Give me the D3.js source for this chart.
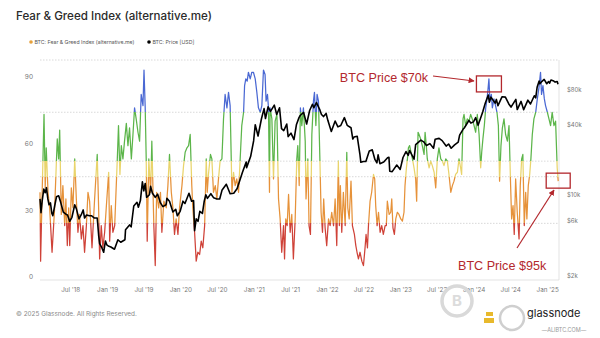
<!DOCTYPE html>
<html>
<head>
<meta charset="utf-8">
<script src="https://cdn.jsdelivr.net/npm/d3@7"></script>
<style>
  html, body { margin: 0; padding: 0; background: #fff; }
  svg { display: block; font-family: Inter, "Open Sans", "Noto Sans", sans-serif; }
</style>
</head>
<body>
<svg id="chart" width="600" height="338"></svg>
<script>
// fear & greed readings: [days since 2018-02-01, index]
const fngStart = "2018-02-01";
const fearGreed = [
  [0,38],[3,7],[10,35],[20,73],[26,40],[31,58],[40,38],[48,31],[60,11],[73,31],[86,62],[93,53],[98,66],
  [106,28],[114,41],[123,23],[129,35],[136,14],[143,31],[148,14],[156,40],[164,31],[173,53],[181,35],
  [189,20],[197,28],[206,17],[214,23],[222,11],[231,23],[239,38],[247,34],[259,13],[272,35],[285,55],
  [292,31],[297,8],[305,23],[313,13],[322,20],[330,31],[342,47],[347,16],[355,32],[363,20],[372,23],
  [385,53],[391,68],[398,46],[405,59],[413,53],[421,61],[430,69],[438,59],[446,67],[455,53],[463,64],
  [471,76],[479,71],[488,65],[496,61],[504,82],[513,77],[518,93],[524,76],[529,53],[534,16],[542,53],
  [551,38],[557,61],[567,23],[574,5],[581,38],[591,31],[600,38],[607,20],[617,34],[629,31],[637,41],
  [645,55],[654,38],[662,31],[670,19],[678,26],[687,19],[695,31],[707,41],[715,50],[723,56],[732,58],
  [740,59],[748,64],[756,41],[761,31],[770,20],[778,7],[786,11],[795,10],[803,16],[811,13],[820,23],
  [828,53],[833,38],[839,46],[849,55],
  [856,53],[864,38],[873,41],[881,35],[889,44],[897,52],[906,53],[914,71],[922,82],[931,76],[939,83],
  [947,77],[956,38],[964,47],[972,41],[980,44],[989,38],[997,53],[1005,68],[1014,74],[1019,86],[1025,89],
  [1032,88],[1038,92],[1047,89],[1055,92],[1063,92],[1072,89],[1080,83],[1088,76],[1097,74],[1105,77],
  [1113,93],[1121,91],[1126,79],[1133,82],[1138,76],[1143,38],[1146,76],[1155,71],[1163,44],[1171,70],
  [1180,73],[1188,35],[1196,26],[1204,11],[1213,23],[1218,8],[1224,26],[1231,23],[1238,37],[1246,20],
  [1254,28],[1262,8],[1271,26],[1279,53],[1284,59],[1291,41],[1297,76],[1304,68],[1312,76],[1321,61],
  [1325,35],[1334,53],[1340,23],[1347,19],[1354,64],[1362,79],[1367,83],[1374,68],[1380,82],[1387,79],
  [1394,53],[1400,29],[1407,20],[1413,35],[1420,22],[1428,14],[1437,26],[1445,23],[1453,29],[1462,23],
  [1470,35],[1478,14],[1486,52],[1491,23],[1496,41],[1503,20],[1511,38],[1520,23],[1528,56],[1533,31],
  [1540,26],[1549,43],[1556,23],[1566,19],[1573,14],[1579,11],[1586,8],[1594,11],[1603,7],[1611,5],
  [1619,13],[1624,19],[1631,13],[1636,23],[1644,34],[1652,38],[1661,46],[1667,44],[1672,32],[1679,23],
  [1686,29],[1694,20],[1702,23],[1710,19],[1719,23],
  [1725,23],[1730,34],[1739,28],[1747,29],[1752,35],[1758,22],[1765,19],[1772,26],[1780,29],[1788,28],
  [1797,26],[1805,25],[1813,29],[1818,41],[1825,49],[1830,53],[1835,58],[1841,59],[1848,56],[1855,53],
  [1863,49],[1871,44],[1876,34],[1883,65],[1888,64],[1896,62],[1904,59],[1913,55],[1918,65],[1924,59],
  [1929,53],[1938,49],[1946,52],[1954,50],[1963,47],[1971,40],[1979,53],[1987,58],[1996,53],[2004,52],
  [2012,50],[2021,53],[2029,52],[2037,46],[2046,38],[2054,41],[2062,43],[2070,46],[2079,47],[2087,53],
  [2095,49],[2100,46],[2107,71],[2112,73],[2120,68],[2128,71],[2137,70],[2145,73],[2153,71],[2162,68],
  [2170,65],[2178,73],[2187,64],[2195,49],[2200,56],[2206,62],[2213,68],[2220,76],[2225,79],[2230,83],
  [2236,89],[2241,79],[2248,82],[2253,76],[2261,80],[2269,77],[2276,74],[2283,68],[2289,43],[2296,59],
  [2303,67],[2311,71],[2319,64],[2328,61],[2336,68],[2344,41],[2349,26],[2356,32],[2362,19],[2369,44],
  [2377,29],[2386,17],[2392,41],[2399,53],[2405,55],[2412,23],[2419,38],[2425,26],[2432,41],[2439,46],
  [2445,53],[2452,64],[2460,71],[2469,74],[2477,80],[2485,85],[2493,92],[2498,82],[2505,86],[2512,80],
  [2518,77],[2527,74],[2535,71],[2543,68],[2551,74],[2560,68],[2568,70],[2576,49],[2581,43]
];

// BTC price in USD
const btcPrice = [
  ["2018-02-01",9200],["2018-02-06",7000],["2018-02-12",8900],["2018-02-20",11200],["2018-02-27",10400],
  ["2018-03-05",11500],["2018-03-12",9200],["2018-03-18",8200],["2018-03-25",8500],["2018-04-01",6900],
  ["2018-04-06",6600],["2018-04-15",8000],["2018-04-24",9600],["2018-05-05",9800],["2018-05-15",8600],
  ["2018-05-28",7100],["2018-06-10",6800],["2018-06-18",6700],["2018-06-29",5900],["2018-07-10",6400],
  ["2018-07-24",8200],["2018-08-01",7600],["2018-08-14",6200],["2018-08-25",6700],["2018-09-04",7400],
  ["2018-09-11",6300],["2018-09-21",6700],["2018-10-05",6600],["2018-10-15",6600],["2018-10-30",6300],
  ["2018-11-13",6300],["2018-11-20",4500],["2018-11-25",3800],["2018-12-06",3500],["2018-12-15",3200],
  ["2018-12-24",4000],["2018-12-31",3700],
  ["2019-01-10",3600],["2019-01-20",3550],["2019-02-07",3400],["2019-02-24",4100],["2019-03-10",3900],
  ["2019-03-31",4100],["2019-04-03",5000],["2019-04-23",5500],["2019-05-01",5300],["2019-05-14",8000],
  ["2019-05-30",8600],["2019-06-06",7800],["2019-06-16",8900],["2019-06-26",12900],["2019-07-03",10800],
  ["2019-07-10",12500],["2019-07-17",9500],["2019-07-31",10000],["2019-08-06",11800],["2019-08-15",10300],
  ["2019-08-29",9500],["2019-09-10",10100],["2019-09-24",8500],["2019-10-06",7900],["2019-10-22",8200],
  ["2019-10-26",9300],["2019-11-08",8800],["2019-11-25",7100],["2019-12-09",7500],["2019-12-17",6600],
  ["2019-12-31",7200],
  ["2020-01-14",8800],["2020-01-24",8400],["2020-02-13",10300],["2020-02-26",8800],["2020-03-07",8900],
  ["2020-03-12",4900],["2020-03-20",6200],["2020-03-29",5900],["2020-04-07",7200],["2020-04-20",6900],
  ["2020-04-29",8800],["2020-05-07",10000],["2020-05-15",9300],["2020-06-01",10200],["2020-06-15",9400],
  ["2020-07-01",9200],["2020-07-15",9200],["2020-07-27",11000],["2020-08-17",12300],["2020-09-05",10200],
  ["2020-09-23",10300],["2020-10-10",11300],["2020-10-21",12900],["2020-11-05",15500],["2020-11-24",19100],
  ["2020-11-26",17100],["2020-12-16",21300],["2020-12-31",29000],
  ["2021-01-08",40000],["2021-01-22",32000],["2021-02-08",45000],["2021-02-21",55000],["2021-02-28",45200],
  ["2021-03-13",57000],["2021-03-25",52000],["2021-04-13",59000],["2021-04-25",49000],["2021-05-09",56000],
  ["2021-05-19",37000],["2021-05-30",35600],["2021-06-14",40500],["2021-06-21",31600],["2021-07-05",33800],
  ["2021-07-20",29800],["2021-08-01",39900],["2021-08-14",46000],["2021-08-20",48000],["2021-09-06",51000],
  ["2021-09-21",40600],["2021-10-06",53000],["2021-10-20",60000],["2021-10-27",56000],["2021-11-09",62000],
  ["2021-11-26",53600],["2021-12-04",49000],["2021-12-14",47000],["2021-12-27",50000],
  ["2022-01-05",43400],["2022-01-22",35000],["2022-02-10",43000],["2022-02-24",38300],["2022-03-10",39400],
  ["2022-03-28",46000],["2022-04-11",39500],["2022-04-30",37700],["2022-05-09",30100],["2022-05-15",31300],
  ["2022-05-31",31800],["2022-06-13",22500],["2022-06-18",19000],["2022-07-01",19300],["2022-07-13",19300],
  ["2022-07-30",23800],["2022-08-14",24300],["2022-08-27",20100],["2022-09-06",18800],["2022-09-12",22000],
  ["2022-09-21",18500],["2022-10-10",19100],["2022-10-29",20800],["2022-11-05",21000],["2022-11-09",15900],
  ["2022-11-21",15800],["2022-12-14",18000],["2022-12-31",16500],
  ["2023-01-14",20900],["2023-01-29",23500],["2023-02-09",21800],["2023-02-16",24000],["2023-03-10",20200],
  ["2023-03-18",27000],["2023-04-13",29500],["2023-04-27",28500],["2023-05-11",26500],["2023-05-28",27500],
  ["2023-06-15",25100],["2023-06-23",30000],["2023-07-13",30500],["2023-07-28",29200],["2023-08-17",26200],
  ["2023-08-29",27300],["2023-09-11",25100],["2023-09-28",26800],["2023-10-16",28300],["2023-10-23",32500],
  ["2023-11-09",36500],["2023-11-15",37500],["2023-12-08",43500],["2023-12-18",41300],["2023-12-31",42300],
  ["2024-01-11",46000],["2024-01-23",39500],["2024-02-15",51500],["2024-02-28",61500],["2024-03-14",72000],
  ["2024-03-19",62500],["2024-03-27",69000],["2024-04-17",61300],["2024-04-23",66000],["2024-05-01",58300],
  ["2024-05-21",69500],["2024-06-07",69000],["2024-06-24",60300],["2024-07-05",56700],["2024-07-29",66000],
  ["2024-08-05",54000],["2024-08-24",63500],["2024-09-06",53900],["2024-09-27",65000],["2024-10-10",60300],
  ["2024-10-29",71000],["2024-11-05",68000],["2024-11-12",84000],["2024-11-22",95000],["2024-11-26",90000],
  ["2024-12-05",94000],["2024-12-17",98000],["2024-12-30",90000],
  ["2025-01-08",94000],["2025-01-13",91000],["2025-01-20",97000],["2025-02-03",95000],["2025-02-10",93000],
  ["2025-02-20",94000],["2025-02-24",89000]
];

const xTicks = ["2018-07-01","2019-01-01","2019-07-01","2020-01-01","2020-07-01","2021-01-01","2021-07-01",
  "2022-01-01","2022-07-01","2023-01-01","2023-07-01","2024-01-01","2024-07-01","2025-01-01"];
const fngTicks = [0, 30, 60, 90];
const priceTicks = [2000, 6000, 10000, 40000, 80000];

// sentiment bands, bottom to top
const bandEdges = [0, 24, 45, 52, 74, 100];
const bandColors = ["#cf4238", "#e6923a", "#e9d46c", "#5cb54a", "#4a68d3"];

const parse = d3.utcParse("%Y-%m-%d");
const day0 = parse(fngStart);
const fng = fearGreed.map(d => ({ date: d3.utcDay.offset(day0, d[0]), v: d[1] }));
const price = btcPrice.map(d => ({ date: parse(d[0]), v: d[1] }));

const svg = d3.select("#chart");
const plotL = 40, plotR = 559, plotT = 60, plotB = 280;

const x = d3.scaleUtc().domain([day0, parse("2025-02-24")]).range([plotL, plotR - 1]);
const yL = d3.scaleLinear().domain([0, 90]).range([276.7, 76.7]);
const yR = d3.scaleLog().domain([2000, 80000]).range([276, 89.7]);

// title + legend
svg.append("text").attr("x", 16).attr("y", 20)
  .attr("font-size", 11.6).attr("fill", "#2b2b2b").attr("font-weight", 500)
  .text("Fear & Greed Index (alternative.me)");

const legend = svg.append("g").attr("font-size", 5.2).attr("fill", "#555");
legend.append("circle").attr("cx", 31).attr("cy", 42).attr("r", 1.8).attr("fill", "#e6a03a");
legend.append("text").attr("x", 34.5).attr("y", 44).text("BTC: Fear & Greed Index (alternative.me)");
legend.append("circle").attr("cx", 149).attr("cy", 42).attr("r", 1.8).attr("fill", "#000");
legend.append("text").attr("x", 152.5).attr("y", 44).text("BTC: Price [USD]");

// frame and band lines
svg.append("line").attr("x1", plotL).attr("x2", plotR).attr("y1", plotT).attr("y2", plotT)
  .attr("stroke", "#c8c8c8").attr("stroke-width", 0.7).attr("stroke-dasharray", "1.5,1.5");
svg.append("g").selectAll("line").data(bandEdges.slice(1, -1)).join("line")
  .attr("x1", plotL).attr("x2", plotR)
  .attr("y1", d => yL(d)).attr("y2", d => yL(d))
  .attr("stroke", "#c8c8c8").attr("stroke-width", 0.7).attr("stroke-dasharray", "1.5,1.5");
svg.append("line").attr("x1", plotL).attr("x2", plotR).attr("y1", plotB).attr("y2", plotB)
  .attr("stroke", "#dcdcdc").attr("stroke-width", 0.8);
svg.append("line").attr("x1", plotR).attr("x2", plotR).attr("y1", plotT).attr("y2", plotB)
  .attr("stroke", "#dcdcdc").attr("stroke-width", 0.8);

// axes
const styleAxis = g => {
  g.select(".domain").remove();
  g.selectAll("text").attr("fill", "#777").attr("font-family", "Inter, 'Open Sans', sans-serif");
};
svg.append("g").attr("transform", `translate(${plotL},0)`)
  .call(d3.axisLeft(yL).tickValues(fngTicks).tickSize(0).tickPadding(7))
  .attr("font-size", 6.5).call(styleAxis);
svg.append("g").attr("transform", `translate(${plotR},0)`)
  .call(d3.axisRight(yR).tickValues(priceTicks).tickSize(0).tickPadding(8)
    .tickFormat(d => "$" + d / 1000 + "k"))
  .attr("font-size", 6).call(styleAxis);
svg.append("g").attr("transform", `translate(0,${plotB})`)
  .call(d3.axisBottom(x).tickValues(xTicks.map(parse)).tickSize(0).tickPadding(8)
    .tickFormat(d3.utcFormat("%b '%y")))
  .attr("font-size", 6.3).call(styleAxis);

// banded stroke for the index line
const defs = svg.append("defs");
const grad = defs.append("linearGradient").attr("id", "fngBands")
  .attr("gradientUnits", "userSpaceOnUse")
  .attr("x1", 0).attr("x2", 0).attr("y1", yL(0)).attr("y2", yL(100));
bandColors.forEach((c, i) => {
  grad.append("stop").attr("offset", bandEdges[i] / 100).attr("stop-color", c);
  grad.append("stop").attr("offset", bandEdges[i + 1] / 100).attr("stop-color", c);
});

svg.append("path").datum(fng)
  .attr("fill", "none").attr("stroke", "url(#fngBands)").attr("stroke-width", 1.25)
  .attr("stroke-linejoin", "round")
  .attr("d", d3.line().x(d => x(d.date)).y(d => yL(d.v)));

svg.append("path").datum(price)
  .attr("fill", "none").attr("stroke", "#000").attr("stroke-width", 1.6)
  .attr("stroke-linejoin", "round")
  .attr("d", d3.line().x(d => x(d.date)).y(d => yR(d.v)));

// callouts
const red = "#b3282d";
defs.append("marker").attr("id", "arrow").attr("viewBox", "0 0 10 10")
  .attr("refX", 9).attr("refY", 5).attr("markerWidth", 5).attr("markerHeight", 5)
  .attr("orient", "auto-start-reverse")
  .append("path").attr("d", "M0,0L10,5L0,10z").attr("fill", red);

const spring24 = fng.filter(e => e.date > parse("2024-02-01") && e.date < parse("2024-06-01"));
const peak = spring24.find(d => d.v === d3.max(spring24, e => e.v));
const last = fng[fng.length - 1];
const callouts = [
  { pt: peak, w: 25, h: 16, dy: -3, label: "BTC Price $70k", tx: 428, ty: 82, anchor: "end", ax: 433, ay: 76, bx: 474, by: 81 },
  { pt: last, w: 24, h: 15, dy: -8, label: "BTC Price $95k", tx: 458, ty: 270, anchor: "start", ax: 517, ay: 248, bx: 554, by: 190 }
];
const co = svg.append("g");
callouts.forEach(c => {
  const cx = x(c.pt.date), cy = yL(c.pt.v);
  co.append("rect").attr("x", cx - c.w / 2).attr("y", cy + c.dy).attr("width", c.w).attr("height", c.h)
    .attr("fill", "none").attr("stroke", red).attr("stroke-width", 1.3);
  co.append("line").attr("x1", c.ax).attr("y1", c.ay).attr("x2", c.bx).attr("y2", c.by)
    .attr("stroke", red).attr("stroke-width", 1.2).attr("marker-end", "url(#arrow)");
  co.append("text").attr("x", c.tx).attr("y", c.ty).attr("text-anchor", c.anchor)
    .attr("font-family", "'Liberation Sans', Arial, sans-serif").attr("font-size", 12.6)
    .attr("fill", red).text(c.label);
});

// footer and marks
svg.append("text").attr("x", 16).attr("y", 316).attr("font-size", 6.4).attr("fill", "#8a8a8a")
  .text("© 2025 Glassnode. All Rights Reserved.");

const wm = svg.append("g");
wm.append("circle").attr("cx", 457).attr("cy", 301).attr("r", 15)
  .attr("fill", "none").attr("stroke", "#d9d9d9").attr("stroke-width", 3.5);
wm.append("text").attr("x", 457).attr("y", 306).attr("text-anchor", "middle")
  .attr("font-size", 15).attr("font-weight", 700).attr("fill", "#dcdcdc").text("B");
wm.append("circle").attr("cx", 512).attr("cy", 318).attr("r", 12)
  .attr("fill", "none").attr("stroke", "#cfcfcf").attr("stroke-width", 2.5);
wm.append("rect").attr("x", 486).attr("y", 312).attr("width", 7).attr("height", 4).attr("fill", "#e8b92c");
wm.append("rect").attr("x", 484).attr("y", 318).attr("width", 10).attr("height", 5).attr("fill", "#e8b92c");
wm.append("text").attr("x", 527).attr("y", 317).attr("font-size", 11).attr("fill", "#222")
  .attr("stroke", "#fff").attr("stroke-width", 1.5).attr("paint-order", "stroke")
  .text("glassnode");
wm.append("text").attr("x", 564).attr("y", 332).attr("text-anchor", "middle")
  .attr("font-size", 5.5).attr("fill", "#999").text("—ALIBTC.COM—");
</script>
</body>
</html>
